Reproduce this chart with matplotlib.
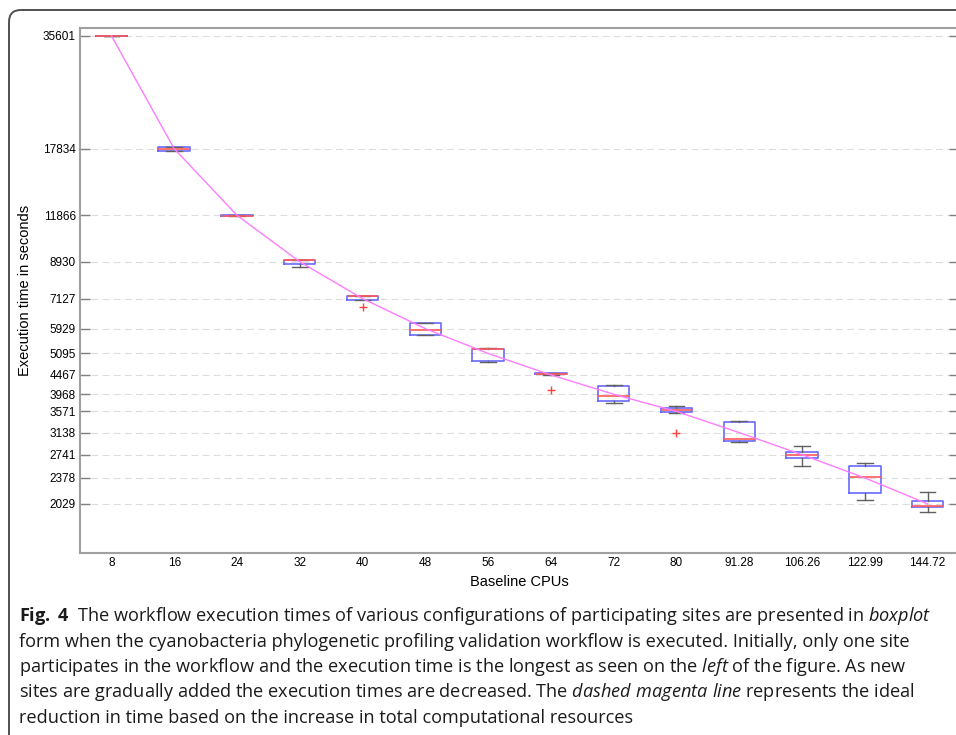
import matplotlib
matplotlib.use("Agg")
import matplotlib.pyplot as plt
from matplotlib.patches import FancyBboxPatch

# categories (baseline CPUs) and ideal execution times (also the y tick values)
cpus = ['8', '16', '24', '32', '40', '48', '56', '64', '72', '80',
        '91.28', '106.26', '122.99', '144.72']
ideal = [35601, 17834, 11866, 8930, 7127, 5929, 5095, 4467, 3968, 3571,
         3138, 2741, 2378, 2029]

# box statistics (seconds)
whislo = [35601, 17605, 11800, 8633, 7080, 5691, 4826, 4470, 3766, 3536, 2963, 2553, 2079, 1936]
q1 = [35601, 17605, 11810, 8792, 7080, 5691, 4864, 4490, 3812, 3551, 2981, 2691, 2166, 1992]
med = [35601, 17822, 11830, 9000, 7225, 5893, 5235, 4505, 3915, 3601, 3012, 2731, 2388, 2001]
q3 = [35601, 18040, 11850, 9010, 7237, 6150, 5235, 4520, 4169, 3652, 3347, 2791, 2558, 2066]
whishi = [35601, 18040, 11860, 9010, 7250, 6150, 5267, 4530, 4202, 3684, 3374, 2885, 2601, 2183]
fliers = [[], [], [], [], [6749], [], [], [4085], [], [3124], [], [], [], []]

caption = [
    r"$\mathbf{Fig.}$ $\mathbf{4}$  The workflow execution times of various configurations of participating sites are presented in $\mathit{boxplot}$",
    r"form when the cyanobacteria phylogenetic profiling validation workflow is executed. Initially, only one site",
    r"participates in the workflow and the execution time is the longest as seen on the $\mathit{left}$ of the figure. As new",
    r"sites are gradually added the execution times are decreased. The $\mathit{dashed\ magenta\ line}$ represents the ideal",
    r"reduction in time based on the increase in total computational resources",
]

plt.rcParams['font.family'] = 'Liberation Sans'
plt.rcParams['mathtext.fontset'] = 'custom'
plt.rcParams['mathtext.rm'] = 'Open Sans'
plt.rcParams['mathtext.it'] = 'Open Sans:italic'
plt.rcParams['mathtext.bf'] = 'Open Sans:bold'

W, H = 956, 735
fig = plt.figure(figsize=(W / 100, H / 100), dpi=100)
ax = fig.add_axes([80 / W, 1 - 553 / H, 879 / W, 525 / H])

pos = list(range(1, len(cpus) + 1))
stats = []
for i in range(len(cpus)):
    stats.append(dict(med=med[i], q1=q1[i], q3=q3[i], whislo=whislo[i],
                      whishi=whishi[i], fliers=fliers[i]))

ax.bxp(stats, positions=pos, widths=0.5, showfliers=True,
       boxprops=dict(color='#6a6aff', lw=1.2),
       medianprops=dict(color='#ff5a5a', lw=1.2),
       whiskerprops=dict(color='#606060', lw=1),
       capprops=dict(color='#606060', lw=1),
       flierprops=dict(marker='+', markeredgecolor='#ff4040', markersize=6, lw=0),
       capwidths=0.25)

ax.plot(pos, ideal, color='#ff7cff', lw=1, zorder=5)

ax.set_yscale('log')
ax.set_ylim(1502, 37330)
ax.set_xlim(0.5, 14.5)
ax.set_yticks(ideal)
ax.set_yticklabels([str(v) for v in ideal])
ax.minorticks_off()
ax.set_xticks(pos)
ax.set_xticklabels(cpus)

ax.tick_params(axis='y', direction='in', length=7, color='#808080', width=1,
               labelsize=8.5, pad=3, right=True)
ax.tick_params(axis='x', length=0, labelsize=8.5, pad=3)
ax.yaxis.grid(True, ls=(0, (6, 4)), color='#dcdcdc', lw=0.8)
ax.set_axisbelow(True)

for s in ['left', 'top', 'bottom', 'right']:
    ax.spines[s].set_color('#a0a0a0')
    ax.spines[s].set_linewidth(1.5)

ax.set_xlabel('Baseline CPUs', fontsize=10.5, labelpad=4)
ax.set_ylabel('Execution time in seconds', fontsize=10.5, labelpad=8)

# rounded frame around the figure (only top-left corner visible)
frame = FancyBboxPatch((9 / 100, -1.0), 12, (H - 10) / 100 + 1.0,
                       boxstyle='round,pad=0,rounding_size=0.12',
                       transform=fig.dpi_scale_trans, fill=False,
                       ec='#505050', lw=1.4, clip_on=False)
fig.add_artist(frame)

baselines = [621, 647, 672, 697, 723]
for line, yb in zip(caption, baselines):
    fig.text(19 / W, 1 - yb / H, line, fontsize=13.1, family='Open Sans',
             color='#1a1a1a', va='baseline', ha='left')

fig.savefig('out.png', dpi=100)
